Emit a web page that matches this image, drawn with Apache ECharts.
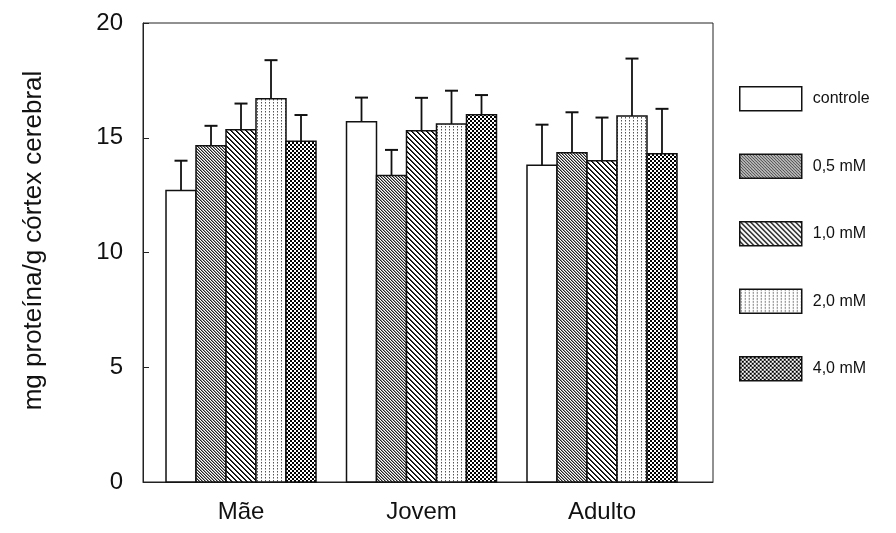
<!DOCTYPE html>
<html>
<head>
<meta charset="utf-8">
<script src="https://cdn.jsdelivr.net/npm/echarts@6/dist/echarts.min.js"></script>
<style>html,body{margin:0;padding:0;background:#fff;}#c{width:896px;height:533px;}</style>
</head>
<body>
<div id="c"></div>
<script>
// ---- data ----
var categories = ['Mãe', 'Jovem', 'Adulto'];
var seriesNames = ['controle', '0,5 mM', '1,0 mM', '2,0 mM', '4,0 mM'];
var meanControle = [12.7, 15.7, 13.8];
var mean05 = [14.65, 13.35, 14.35];
var mean10 = [15.35, 15.3, 14.0];
var mean20 = [16.7, 15.6, 15.95];
var mean40 = [14.85, 16.0, 14.3];
var errControle = [1.3, 1.05, 1.77];
var err05 = [0.87, 1.12, 1.76];
var err10 = [1.14, 1.44, 1.88];
var err20 = [1.68, 1.45, 2.5];
var err40 = [1.14, 0.86, 1.96];
var yTicks = [0, 5, 10, 15, 20];

var means = [meanControle, mean05, mean10, mean20, mean40];
var errs = [errControle, err05, err10, err20, err40];

// ---- patterns ----
function tile(w, h, fn) {
  var c = document.createElement('canvas');
  c.width = w; c.height = h;
  var ctx = c.getContext('2d');
  ctx.fillStyle = '#fff'; ctx.fillRect(0, 0, w, h);
  for (var y = 0; y < h; y++) for (var x = 0; x < w; x++) {
    var col = fn(x, y);
    if (col) { ctx.fillStyle = col; ctx.fillRect(x, y, 1, 1); }
  }
  return { image: c, repeat: 'repeat' };
}
var patterns = [
  '#ffffff',
  tile(6, 6, function (x, y) { var m = ((x - y) % 3 + 3) % 3; return m === 0 ? '#222' : (m === 1 ? '#999' : null); }),
  tile(10, 10, function (x, y) { var m = ((x - y) % 5 + 5) % 5; return m === 0 ? '#000' : (m === 1 ? '#333' : null); }),
  tile(4, 3, function (x, y) { return (x === 1 && y !== 2) ? (y === 0 ? '#555' : '#aaa') : null; }),
  tile(4, 4, function (x, y) {
    var white = (x < 2 && y < 2) || (x >= 2 && y >= 2);
    return white ? null : '#000';
  })
];

var barFrac = 30 / 180.5;

function makeRender(si) {
  return function (params, api) {
    var cat = api.value(0), val = api.value(1), sd = api.value(2);
    var band = api.size([1, 0])[0];
    var w = band * barFrac;
    var cx = api.coord([cat, 0])[0] + (si - 2) * w;
    var base = api.coord([cat, 0])[1];
    var top = api.coord([cat, val])[1];
    var ey = api.coord([cat, val + sd])[1];
    return {
      type: 'group',
      children: [
        { type: 'line', shape: { x1: cx, y1: top, x2: cx, y2: ey }, style: { stroke: '#111', lineWidth: 1.8 } },
        { type: 'line', shape: { x1: cx - 6.5, y1: ey, x2: cx + 6.5, y2: ey }, style: { stroke: '#111', lineWidth: 2 } },
        { type: 'rect', shape: { x: cx - w / 2, y: top, width: w, height: base - top },
          style: { fill: patterns[si], stroke: '#111', lineWidth: 1.5 } }
      ]
    };
  };
}

var series = seriesNames.map(function (name, si) {
  return {
    type: 'custom',
    name: name,
    renderItem: makeRender(si),
    itemStyle: { color: patterns[si], borderColor: '#111', borderWidth: 1.5 },
    data: categories.map(function (c, ci) { return [ci, means[si][ci], errs[si][ci]]; }),
    encode: { x: 0, y: 1 }
  };
});

var chart = echarts.init(document.getElementById('c'), null, { renderer: 'canvas' });
chart.setOption({
  backgroundColor: '#fff',
  animation: false,
  textStyle: { fontFamily: 'Liberation Sans, Arial, sans-serif' },
  grid: { left: 143, top: 23, right: 183, bottom: 51, show: true, borderColor: '#222', borderWidth: 1, backgroundColor: 'transparent' },
  legend: {
    orient: 'vertical',
    left: 734, top: 81,
    itemWidth: 62, itemHeight: 24, itemGap: 42,
    icon: 'rect',
    selectedMode: false,
    textStyle: { fontSize: 16, color: '#111', padding: [0, 0, 0, 6] },
    data: seriesNames.map(function (n, si) {
      return { name: n, icon: 'rect', itemStyle: { color: patterns[si], borderColor: '#111', borderWidth: 1.5 } };
    })
  },
  xAxis: {
    type: 'value',
    min: -0.543, max: 2.615,
    axisLine: { show: true, onZero: false, lineStyle: { color: '#222', width: 1 } },
    axisTick: { show: false },
    splitLine: { show: false },
    axisLabel: {
      customValues: [0, 1, 2],
      formatter: function (v) { return categories[Math.round(v)]; },
      fontSize: 24, color: '#111', margin: 18
    }
  },
  yAxis: {
    type: 'value',
    min: 0, max: 20, interval: 5,
    name: 'mg proteína/g córtex cerebral',
    nameLocation: 'middle',
    nameRotate: 90,
    nameGap: 96,
    nameTextStyle: { fontSize: 26, color: '#111', padding: [0, 0, 0, 24] },
    axisLine: { show: true, onZero: false, lineStyle: { color: '#222', width: 1 } },
    axisTick: { show: true, inside: true, length: 6, lineStyle: { color: '#222' } },
    splitLine: { show: false },
    axisLabel: {
      customValues: yTicks,
      fontSize: 24, color: '#111', margin: 20
    }
  },
  series: series
});
</script>
</body>
</html>
